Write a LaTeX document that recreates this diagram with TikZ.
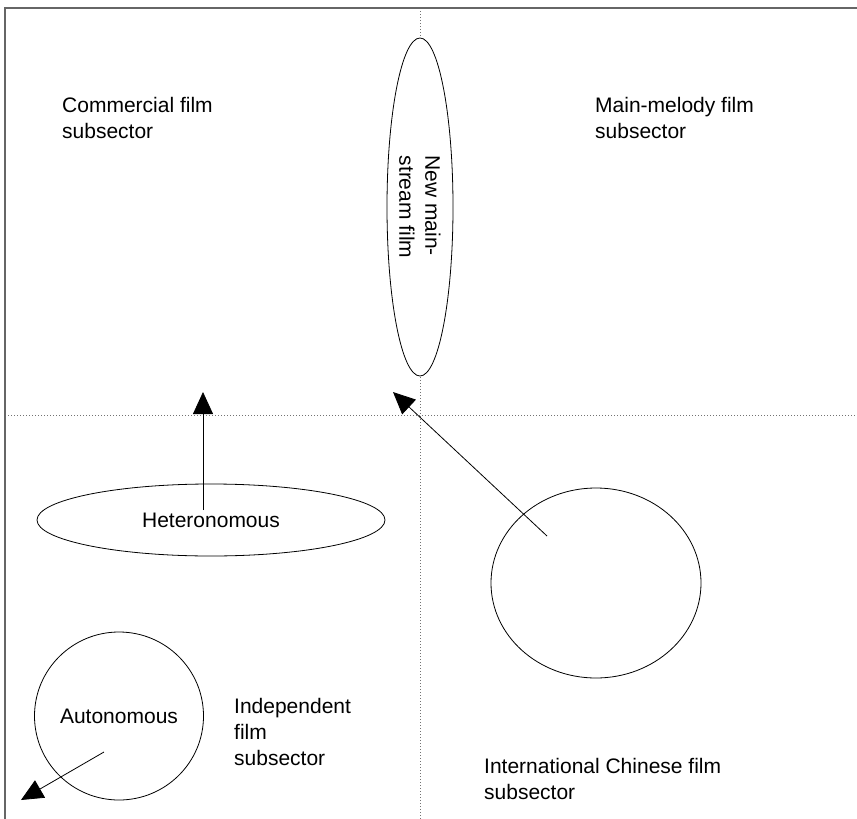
\documentclass[tikz,border=0pt]{standalone}
\usepackage{fontspec}
\setmainfont{Liberation Sans}
\usetikzlibrary{shapes.geometric,arrows.meta}
\tikzset{
  frameline/.style={line width=1.5pt, color=black!60},
  quadline/.style={line width=0.9pt, color=black!55, dash pattern=on 1pt off 2pt},
  field/.style={draw, ellipse, line width=0.8pt, inner sep=0pt, fill=white, font=\fontsize{21}{26}\selectfont},
  sectorlabel/.style={anchor=north west, align=left, inner sep=0pt, font=\fontsize{21}{26}\selectfont},
  pull/.style={line width=0.8pt, -{Triangle[length=22pt,width=20pt]}}
}
\begin{document}
\begin{tikzpicture}[x=1pt,y=-1pt]
  \useasboundingbox (0,0) rectangle (857,819);

  %% quadrant lines
  \coordinate (vtop) at (420,8);
  \coordinate (vbot) at (420,819);
  \coordinate (hleft) at (5,415);
  \coordinate (hright) at (857,415);
  \draw[quadline] (vtop) -- (vbot);
  \draw[quadline] (hleft) -- (hright);

  %% frame
  \coordinate (corner) at (5,8);
  \draw[frameline] (857,8) -- (corner) -- (5,819);

  %% fields
  \node[field, rotate=-90, minimum width=338pt, minimum height=66pt, align=left] (newmain) at (420,207) {New main-\\stream film};
  \node[field, minimum width=348pt, minimum height=72pt] (hetero) at (211,520) {Heteronomous};
  \node[field, minimum width=210pt, minimum height=190pt] (intl) at (596,583) {};
  \node[field, minimum width=169pt, minimum height=168pt] (auto) at (119,716) {Autonomous};

  %% labels
  \node[sectorlabel] (commercial) at (62,97) {Commercial film\\subsector};
  \node[sectorlabel] (melody) at (595,97) {Main-melody film\\subsector};
  \node[sectorlabel] (independent) at (234,698) {Independent\\film\\subsector};
  \node[sectorlabel] (chinese) at (484,758) {International Chinese film\\subsector};

  %% arrows
  \coordinate (heteroTail) at (203,510);
  \coordinate (heteroTip) at (203,392);
  \coordinate (intlTail) at (547,536);
  \coordinate (intlTip) at (393,392);
  \coordinate (autoTail) at (104,752);
  \coordinate (autoTip) at (21,800);
  \draw[pull] (heteroTail) -- (heteroTip);
  \draw[pull] (intlTail) -- (intlTip);
  \draw[pull] (autoTail) -- (autoTip);
\end{tikzpicture}
\end{document}
